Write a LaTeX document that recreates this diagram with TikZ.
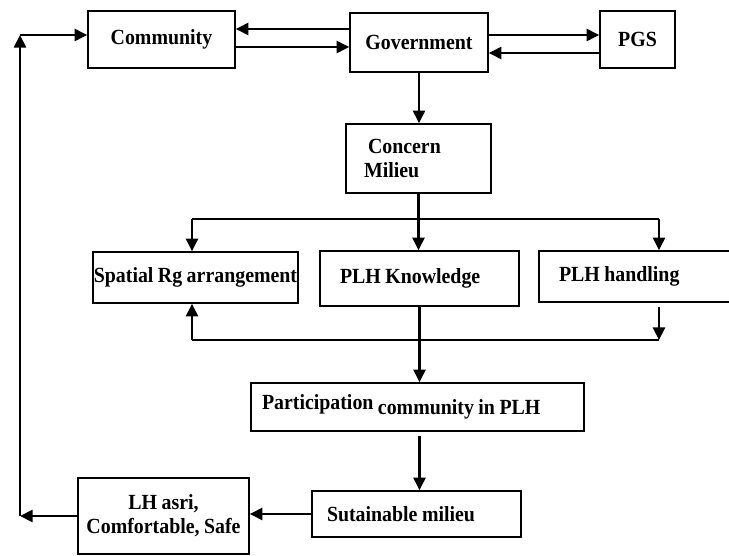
\documentclass[tikz,border=0pt]{standalone}
\usepackage{fontspec}
\setmainfont{Liberation Serif}[FakeStretch=0.92, WordSpace=0.9]
\usetikzlibrary{arrows.meta}
\begin{document}
\begin{tikzpicture}[x=0.5pt, y=-0.5pt,
  box/.style={draw, line width=0.8pt, inner sep=0pt, font=\bfseries\fontsize{10.8pt}{12pt}\selectfont},
  lbox/.style={box, align=flush left},
  arr/.style={-{Triangle[length=6.3pt, width=6pt]}, line width=1.3pt},
  branch/.style={line width=0.8pt}]
\useasboundingbox (0,0) rectangle (729,556);
\node[box, minimum width=73.5pt, minimum height=28.5pt] (comm) at (161.5,39.5) {Community};
\node[box, minimum width=69pt, minimum height=29.5pt] (gov) at (419,42.5) {Government};
\node[box, minimum width=37.5pt, minimum height=28.5pt] (pgs) at (637.5,39.5) {PGS};
\node[lbox, minimum width=72.5pt, minimum height=34.5pt, text width=54.5pt] (concern) at (418.5,158.5) {\hspace{2pt}Concern\\Milieu};
\node[box, minimum width=102.5pt, minimum height=25.5pt] (spatial) at (195.5,277.5) {Spatial Rg arrangement};
\node[lbox, minimum width=99.5pt, minimum height=27.5pt, text width=79.5pt] (know) at (419.5,278.5) {PLH Knowledge};
\node[lbox, minimum width=98pt, minimum height=25.5pt, text width=78pt] (handl) at (637,276.5) {PLH handling};
\node[lbox, minimum width=166.5pt, minimum height=24pt, text width=155.5pt] (part) at (417.5,407) {\raisebox{2.5pt}{Participation} community in PLH};
\node[lbox, minimum width=104.5pt, minimum height=23pt, text width=89.5pt] (sust) at (416.5,514) {Sutainable milieu};
\node[box, minimum width=85.5pt, minimum height=38pt, align=center] (lh) at (163.5,516) {LH asri,\\Comfortable, Safe};

\coordinate (brL) at (192,219);
\coordinate (brR) at (659,219);
\coordinate (rtL) at (192,340);
\coordinate (rtR) at (659,340);
\coordinate (fb) at (20,35);

\draw[arr] ([yshift=5.25pt]comm.east -| gov.west) -- ([yshift=5.25pt]comm.east);
\draw[arr] ([yshift=-3.75pt]comm.east) -- ([yshift=-3.75pt]comm.east -| gov.west);
\draw[arr] ([yshift=2.25pt]pgs.west -| gov.east) -- ([yshift=2.25pt]pgs.west);
\draw[arr] ([yshift=-6.75pt]pgs.west) -- ([yshift=-6.75pt]pgs.west -| gov.east);
\draw[arr] (gov.south) -- (gov.south |- concern.north);
\draw[branch] (brL) -- (brR);
\draw[arr] (concern.south) -- (concern.south |- know.north);
\draw[arr] (brL) -- (brL |- spatial.north);
\draw[arr] (brR) -- (brR |- handl.north);
\draw[branch] (rtL) -- (rtR);
\draw[arr] ([yshift=-2pt]rtR |- handl.south) -- (rtR);
\draw[arr] (rtL) -- (rtL |- spatial.south);
\draw[arr] (know.south) -- (know.south |- part.north);
\draw[arr] ([yshift=-2pt]know.south |- part.south) -- (know.south |- sust.north);
\draw[arr] (sust.west) -- (sust.west -| lh.east);
\draw[arr] (lh.west) -- (lh.west -| fb);
\draw[arr] (lh.west -| fb) -- (fb);
\draw[arr] (fb) -- (fb -| comm.west);
\end{tikzpicture}
\end{document}
